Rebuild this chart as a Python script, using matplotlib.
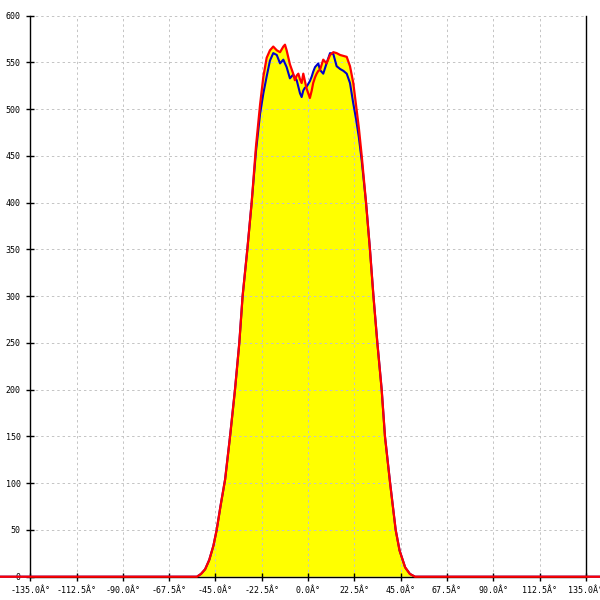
import numpy as np
import matplotlib
matplotlib.use("Agg")
import matplotlib.pyplot as plt

# angle (deg) shared by both series
angles = [-150, -54, -52, -50, -48, -46, -44.4, -42.5, -40.3, -37.9, -35.5,
          -33.4, -31.8, -29.5, -27.4, -25.3, -23.3, -21.7, -20.1, -18.5,
          -16.9, -15.2, -13.6, -12.0, -11.2, -10.4, -8.8, -7.2, -6.4, -5.5,
          -4.7, -3.9, -3.1, -2.3, -1.5, -0.7, 0.9, 1.8, 2.5, 3.4, 4.2, 5.0,
          5.8, 7.4, 9.0, 10.7, 12.3, 13.9, 15.6, 17.2, 18.8, 20.4, 22.0,
          23.3, 24.7, 26.1, 28.2, 30.1, 31.8, 33.7, 35.8, 37.4, 39.9, 42.6,
          44.5, 47.2, 49.5, 52.0, 150]

red = [0, 0, 3, 8, 18, 33, 50, 76, 104, 150, 200,
       250, 300, 350, 400, 460, 505, 535, 555, 563,
       567, 563, 561, 567, 569, 563, 548, 538, 531, 536,
       538, 532, 528, 538, 530, 522, 512, 520, 528, 534, 538, 541,
       542, 553, 549, 558, 561, 560, 558, 557, 556, 546, 528,
       505, 480, 450, 400, 350, 300, 250, 200, 150, 100, 50,
       28, 10, 3, 0, 0]

blue = [0, 0, 3, 8, 18, 33, 50, 76, 104, 150, 200,
        250, 300, 350, 400, 455, 495, 517, 535, 552,
        560, 558, 549, 553, 549, 545, 533, 537, 534, 531,
        524, 517, 513, 520, 523, 524, 530, 535, 540, 545, 547, 549,
        542, 538, 549, 560, 559, 546, 543, 541, 538, 528, 506,
        490, 470, 445, 400, 350, 300, 250, 200, 150, 100, 50,
        28, 10, 3, 0, 0]

x_ticks = np.arange(-135, 135.1, 22.5)
y_ticks = np.arange(0, 601, 50)
x_labels = [f"{v:.1f}Â°" for v in x_ticks]
y_labels = [f"{v:d}" for v in y_ticks]

fig = plt.figure(figsize=(6, 6), dpi=100)
ax = fig.add_axes([0, 0, 1, 1])
ax.set_xlim(-149.7, 141.9)
ax.set_ylim(-24.9, 616.8)

a = np.array(angles)
ax.fill_between(a, np.maximum(red, blue), 0, color="#ffff00", lw=0, zorder=1)

grid_kw = dict(color="#c4c4c4", lw=0.7, linestyles=(0, (2.5, 3)), zorder=1.5)
ax.vlines(x_ticks, 0, 600, **grid_kw)
ax.hlines(y_ticks, -135, 135, **grid_kw)

ax.plot(a, blue, color="#0000cc", lw=1.5, zorder=2)
ax.plot(a, red, color="#ff0000", lw=1.6, zorder=3)

ax.spines["top"].set_visible(False)
ax.spines["left"].set_position(("data", -135))
ax.spines["left"].set_bounds(0, 600)
ax.spines["right"].set_position(("data", 135))
ax.spines["right"].set_bounds(0, 600)
ax.spines["bottom"].set_position(("data", 0))
ax.spines["bottom"].set_bounds(-135, 135)
for s in ("left", "right", "bottom"):
    ax.spines[s].set_linewidth(1.0)
    ax.spines[s].set_zorder(2.5)

ax.set_xticks(x_ticks, x_labels)
ax.set_yticks(y_ticks, y_labels)
ax.tick_params(direction="inout", length=6, width=1.0, pad=4,
               labelsize=6, labelcolor="#000000")
for lab in ax.get_xticklabels() + ax.get_yticklabels():
    lab.set_family("DejaVu Sans Mono")

fig.savefig("out.png", dpi=100)
